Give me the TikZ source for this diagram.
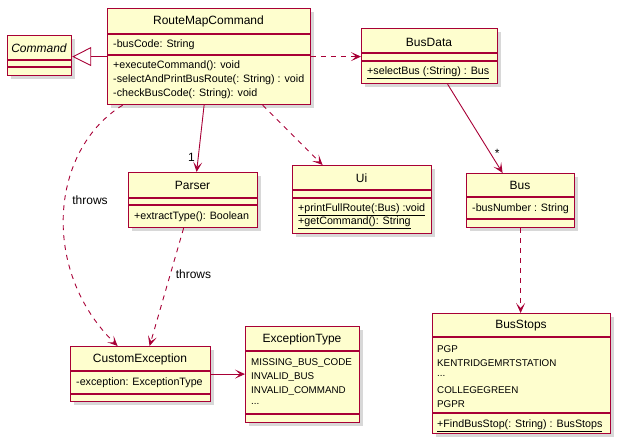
\documentclass[tikz,border=0pt]{standalone}
\usepackage{fontspec}
\setmainfont{Liberation Sans}
\usetikzlibrary{arrows.meta,shadows}
\definecolor{umlred}{HTML}{A80036}
\definecolor{umlfill}{HTML}{FEFECE}
\begin{document}
\begin{tikzpicture}[x=1pt,y=-1pt,
    cls/.style={draw=umlred,fill=umlfill,line width=1.2pt,anchor=north west,inner sep=0pt,
      drop shadow={shadow xshift=3.5pt,shadow yshift=-3.5pt,fill=black!30}},
    title/.style={font=\fontsize{12}{14}\selectfont,inner sep=0pt},
    member/.style={font=\fontsize{10.7}{13}\selectfont,anchor=west,inner sep=0pt},
    constant/.style={font=\fontsize{9.8}{12}\selectfont,anchor=west,inner sep=0pt},
    sep/.style={draw=umlred,line width=1.2pt},
    link/.style={draw=umlred,line width=0.9pt,-{Stealth[length=10pt,width=9pt,inset=5pt]}},
    dep/.style={link,dash pattern=on 5pt off 5pt},
    lbl/.style={font=\fontsize{12}{14}\selectfont,inner sep=0pt}]
  \useasboundingbox (0,0) rectangle (619,446);

  % Command
  \node[cls,minimum width=64pt,minimum height=40pt] (cmd) at (7,35) {};
  \node[title] (cmd-t) at (39,48) {\itshape Command};
  \draw[sep] (7,60) -- (71,60);
  \draw[sep] (7,67) -- (71,67);

  % RouteMapCommand
  \node[cls,minimum width=203pt,minimum height=96pt] (rmc) at (107,8) {};
  \node[title] (rmc-t) at (208.5,21) {RouteMapCommand};
  \draw[sep] (107,34) -- (310,34);
  \node[member] (rmc-a) at (113,45) {-busCode: String};
  \draw[sep] (107,55) -- (310,55);
  \node[member] (rmc-m1) at (113,66) {+executeCommand(): void};
  \node[member] (rmc-m2) at (113,80) {-selectAndPrintBusRoute(: String) : void};
  \node[member] (rmc-m3) at (113,94) {-checkBusCode(: String): void};

  % BusData
  \node[cls,minimum width=136pt,minimum height=55pt] (busdata) at (361,28) {};
  \node[title] (busdata-t) at (429,42) {BusData};
  \draw[sep] (361,53) -- (497,53);
  \draw[sep] (361,61) -- (497,61);
  \node[member] (busdata-m) at (367,73) {\underline{+selectBus (:String) : Bus}};

  % Parser
  \node[cls,minimum width=129pt,minimum height=55pt] (parser) at (128,172) {};
  \node[title] (parser-t) at (192.5,185) {Parser};
  \draw[sep] (128,198) -- (257,198);
  \draw[sep] (128,205) -- (257,205);
  \node[member] (parser-m) at (134,217) {+extractType(): Boolean};

  % Ui
  \node[cls,minimum width=139pt,minimum height=68pt] (ui) at (292,165) {};
  \node[title] (ui-t) at (361.5,178) {Ui};
  \draw[sep] (292,190) -- (431,190);
  \draw[sep] (292,198) -- (431,198);
  \node[member] (ui-m1) at (298,210) {\underline{+printFullRoute(:Bus) :void}};
  \node[member] (ui-m2) at (298,223) {\underline{+getCommand(): String}};

  % Bus
  \node[cls,minimum width=108pt,minimum height=54pt] (bus) at (466,173) {};
  \node[title] (bus-t) at (520,185) {Bus};
  \draw[sep] (466,197) -- (574,197);
  \node[member] (bus-a) at (472,209) {-busNumber : String};
  \draw[sep] (466,219) -- (574,219);

  % CustomException
  \node[cls,minimum width=140pt,minimum height=55pt] (cust) at (70,346) {};
  \node[title] (cust-t) at (140,359) {CustomException};
  \draw[sep] (70,371) -- (210,371);
  \node[member] (cust-a) at (76,383) {-exception: ExceptionType};
  \draw[sep] (70,394) -- (210,394);

  % ExceptionType
  \node[cls,minimum width=114pt,minimum height=96pt] (exctype) at (245,326) {};
  \node[title] (exctype-t) at (302,339) {ExceptionType};
  \draw[sep] (245,351) -- (359,351);
  \node[constant] (exctype-c1) at (251,363) {MISSING\_BUS\_CODE};
  \node[constant] (exctype-c2) at (251,377) {INVALID\_BUS};
  \node[constant] (exctype-c3) at (251,391) {INVALID\_COMMAND};
  \node[constant] (exctype-c4) at (251,404) {...};
  \draw[sep] (245,414) -- (359,414);

  % BusStops
  \node[cls,minimum width=178pt,minimum height=120pt] (busstops) at (432,313) {};
  \node[title] (busstops-t) at (521,326) {BusStops};
  \draw[sep] (432,337) -- (610,337);
  \node[constant] (busstops-c1) at (437,349) {PGP};
  \node[constant] (busstops-c2) at (437,363) {KENTRIDGEMRTSTATION};
  \node[constant] (busstops-c3) at (437,376) {...};
  \node[constant] (busstops-c4) at (437,390) {COLLEGEGREEN};
  \node[constant] (busstops-c5) at (437,404) {PGPR};
  \draw[sep] (432,413) -- (610,413);
  \node[member] (busstops-m) at (437,426) {\underline{+FindBusStop(: String) : BusStops}};

  % connectors
  \draw[link,-{Triangle[length=19pt,width=19pt,fill=white]}] (rmc.west) -- (rmc.west -| cmd.east);
  \draw[dep] (rmc.east) -- (rmc.east -| busdata.west);
  \draw[link] ([xshift=18pt]busdata.south) -- node[lbl,pos=.78,right=4pt] {*} ([xshift=-18pt]bus.north);
  \draw[link] ([xshift=-5pt]rmc.south) -- node[lbl,pos=.78,left=3pt] {1} ([xshift=3.5pt]parser.north);
  \draw[dep] ([xshift=53.5pt]rmc.south) -- ([xshift=-39.5pt]ui.north);
  \draw[dep] ([xshift=-86.5pt]rmc.south) .. controls (50,150) and (40,270) .. node[lbl,pos=.45,right=7pt] {throws} ([xshift=-23pt]cust.north);
  \draw[dep] ([xshift=-9.5pt]parser.south) -- node[lbl,pos=.39,right=5pt] {throws} ([xshift=9pt]cust.north);
  \draw[link] (cust.east) -- (cust.east -| exctype.west);
  \draw[dep] (bus.south) -- (bus.south |- busstops.north);
\end{tikzpicture}
\end{document}
